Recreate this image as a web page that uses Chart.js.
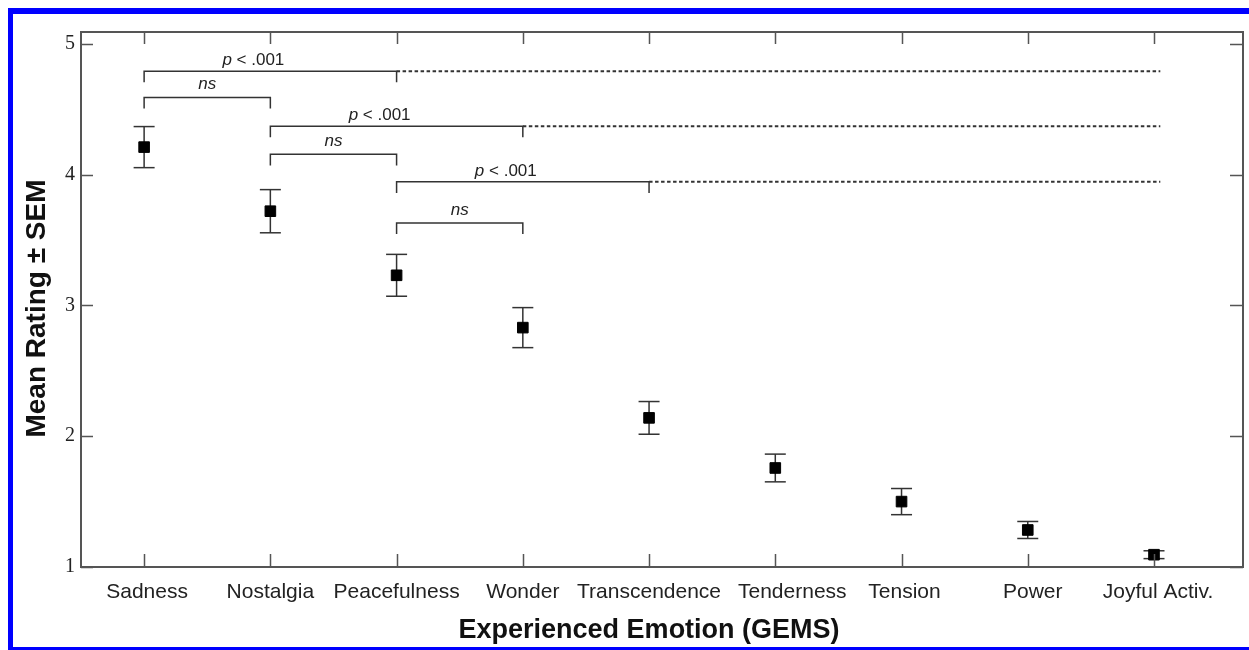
<!DOCTYPE html>
<html>
<head>
<meta charset="utf-8">
<script src="https://cdn.jsdelivr.net/npm/chart.js@4.4.1/dist/chart.umd.min.js"></script>
<style>
  html, body { margin: 0; padding: 0; background: #fff; overflow: hidden; }
  #wrap { position: relative; width: 1249px; height: 650px; }
  #frame {
    position: absolute; left: 8px; top: 8px; right: -20px; height: 633px;
    border-top: 6px solid #0000ff; border-left: 5px solid #0000ff; border-bottom: 6px solid #0000ff;
    pointer-events: none;
  }
</style>
</head>
<body>
<div id="wrap">
  <canvas id="chart"></canvas>
  <div id="frame"></div>
</div>
<script>
const emotions = ['Sadness', 'Nostalgia', 'Peacefulness', 'Wonder', 'Transcendence', 'Tenderness', 'Tension', 'Power', 'Joyful Activ.'];
const meanRating = [4.21, 3.72, 3.23, 2.83, 2.14, 1.757, 1.50, 1.283, 1.094];
const semRating = [0.157, 0.165, 0.16, 0.153, 0.125, 0.106, 0.10, 0.065, 0.03];
const yTicks = [1, 2, 3, 4, 5];

// significance brackets (category numbers 1..9, y in rating units)
const bracketFrom = [1, 1, 2, 2, 3, 3];
const bracketTo = [3, 2, 4, 3, 5, 4];
const bracketLevel = [4.79, 4.59, 4.37, 4.155, 3.945, 3.63];
const bracketLabel = ['p < .001', 'ns', 'p < .001', 'ns', 'p < .001', 'ns'];
const dottedTo = [9.05, null, 9.05, null, 9.05, null];

const ink = '#222';
const axisColor = '#555';
const sans = '"Liberation Sans", Arial, sans-serif';
const LEG = 0.085;
// small horizontal nudges of category labels, as in the original figure
const labelNudge = { 'Sadness': 3, 'Tenderness': 17, 'Tension': 3, 'Power': 5, 'Joyful Activ.': 4 };

const gap = (x) => ({ x, y: null });

const meanPts = meanRating.map((m, i) => ({ x: i + 1, y: m }));
const errPts = [];
meanRating.forEach((m, i) => {
  errPts.push({ x: i + 1, y: m - semRating[i] }, { x: i + 1, y: m + semRating[i] }, gap(i + 1));
});
const bracketPts = [];
const dottedPts = [];
bracketFrom.forEach((a, i) => {
  const b = bracketTo[i], h = bracketLevel[i];
  bracketPts.push({ x: a, y: h - LEG }, { x: a, y: h }, { x: b, y: h }, { x: b, y: h - LEG }, gap(b));
  if (dottedTo[i] != null) dottedPts.push({ x: b, y: h }, { x: dottedTo[i], y: h }, gap(dottedTo[i]));
});

// plot box with inward ticks on all four sides, category labels, titles, bracket labels
const framePlugin = {
  id: 'frameTicks',
  afterDatasetsDraw(chart) {
    const { ctx, chartArea: a, scales: { x, y } } = chart;
    ctx.save();
    ctx.strokeStyle = axisColor;
    ctx.lineWidth = 2;
    ctx.strokeRect(a.left, a.top, a.right - a.left, a.bottom - a.top);
    ctx.lineWidth = 1.5;
    ctx.beginPath();
    x.ticks.forEach(t => {
      const px = Math.round(x.getPixelForValue(t.value)) + 0.5;
      ctx.moveTo(px, a.bottom); ctx.lineTo(px, a.bottom - 13);
      ctx.moveTo(px, a.top); ctx.lineTo(px, a.top + 12);
    });
    y.ticks.forEach(t => {
      const py = Math.round(y.getPixelForValue(t.value)) + 0.5;
      ctx.moveTo(a.left, py); ctx.lineTo(a.left + 12, py);
      ctx.moveTo(a.right, py); ctx.lineTo(a.right - 13, py);
    });
    ctx.stroke();

    // category labels
    ctx.fillStyle = ink;
    ctx.textAlign = 'center';
    ctx.textBaseline = 'alphabetic';
    ctx.font = '21px ' + sans;
    emotions.forEach((lab, i) => {
      ctx.fillText(lab, x.getPixelForValue(i + 1) + (labelNudge[lab] || 0), a.bottom + 31);
    });

    // axis titles
    ctx.fillStyle = '#111';
    ctx.font = 'bold 27px ' + sans;
    ctx.fillText('Experienced Emotion (GEMS)', x.getPixelForValue(5), a.bottom + 71);
    ctx.save();
    ctx.translate(45, (a.top + a.bottom) / 2 + 9);
    ctx.rotate(-Math.PI / 2);
    ctx.font = 'bold 28px ' + sans;
    ctx.fillText('Mean Rating ± SEM', 0, 0);
    ctx.restore();

    // bracket labels
    ctx.fillStyle = ink;
    bracketLabel.forEach((lab, i) => {
      const mid = (x.getPixelForValue(bracketFrom[i]) + x.getPixelForValue(bracketTo[i])) / 2;
      const py = y.getPixelForValue(bracketLevel[i]);
      if (lab.startsWith('p')) {
        const rest = lab.slice(1);
        ctx.font = 'italic 17px ' + sans;
        const w1 = ctx.measureText('p').width;
        ctx.font = '17px ' + sans;
        const w2 = ctx.measureText(rest).width;
        const x0 = mid - 17 - (w1 + w2) / 2;
        ctx.textAlign = 'left';
        ctx.font = 'italic 17px ' + sans;
        ctx.fillText('p', x0, py - 6);
        ctx.font = '17px ' + sans;
        ctx.fillText(rest, x0 + w1, py - 6);
      } else {
        ctx.textAlign = 'center';
        ctx.font = 'italic 17px ' + sans;
        ctx.fillText(lab, mid, py - 8);
      }
    });
    ctx.restore();
  }
};

new Chart(document.getElementById('chart'), {
  type: 'scatter',
  data: {
    datasets: [
      {
        label: 'Mean',
        data: meanPts,
        pointStyle: 'rect',
        pointRadius: 7.5,
        pointBackgroundColor: '#000',
        pointBorderColor: '#000',
        pointBorderWidth: 1,
        showLine: false
      },
      {
        label: 'SEM',
        data: errPts,
        showLine: true,
        spanGaps: false,
        borderColor: '#333',
        borderWidth: 1.5,
        pointStyle: 'line',
        pointRadius: 10.5,
        pointBorderColor: '#333',
        pointBorderWidth: 1.5
      },
      {
        label: 'Brackets',
        data: bracketPts,
        showLine: true,
        spanGaps: false,
        borderColor: '#333',
        borderWidth: 1.5,
        pointRadius: 0
      },
      {
        label: 'Continued',
        data: dottedPts,
        showLine: true,
        spanGaps: false,
        borderColor: '#333',
        borderWidth: 2,
        borderDash: [3.5, 2.5],
        pointRadius: 0
      }
    ]
  },
  options: {
    responsive: true,
    maintainAspectRatio: false,
    animation: false,
    layout: { autoPadding: false, padding: { top: 32, right: 6, left: 0, bottom: 0 } },
    scales: {
      x: {
        type: 'linear',
        min: 0.5,
        max: 9.705,
        afterBuildTicks: (s) => { s.ticks = emotions.map((_, i) => ({ value: i + 1 })); },
        afterFit: (s) => { s.height = 83; },
        grid: { display: false, drawTicks: false },
        border: { display: false },
        ticks: { display: false }
      },
      y: {
        min: 1,
        max: 5.09,
        afterBuildTicks: (s) => { s.ticks = yTicks.map(v => ({ value: v })); },
        afterFit: (s) => { s.width = 81; },
        grid: { display: false, drawTicks: false },
        border: { display: false },
        ticks: {
          padding: 6,
          color: ink,
          font: { family: '"Liberation Serif", "Times New Roman", serif', size: 20 }
        }
      }
    },
    plugins: {
      legend: { display: false },
      tooltip: { enabled: false }
    }
  },
  plugins: [framePlugin]
});
</script>
</body>
</html>
